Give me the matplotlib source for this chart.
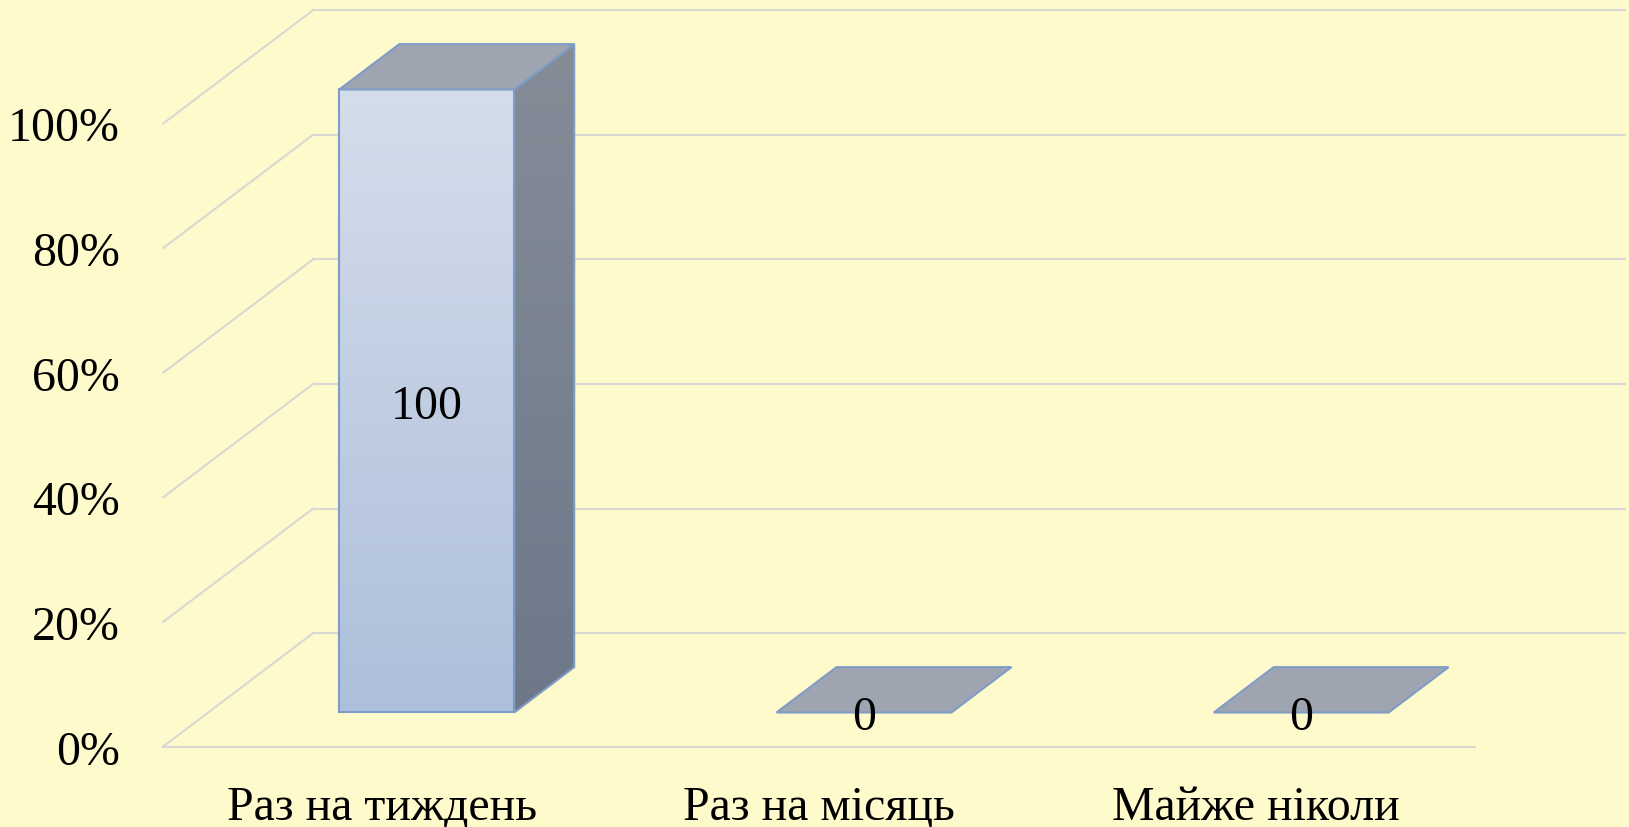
import matplotlib.pyplot as plt
import numpy as np
from matplotlib.colors import LinearSegmentedColormap
from matplotlib.patches import Polygon

# Chart data
categories = ["Раз на тиждень", "Раз на місяць", "Майже ніколи"]
values = [100, 0, 0]
value_labels = ["100", "0", "0"]
y_ticks = [0, 20, 40, 60, 80, 100]
y_tick_labels = ["0%", "20%", "40%", "60%", "80%", "100%"]

# Pseudo-3D layout (x in category slots, y in percent)
DEPTH_X = 0.343    # depth shift in category units
DEPTH_Y = 18.2     # depth shift in percent units
BAR_LO, BAR_HI = 0.3, 0.7   # bar position inside slot and inside depth

BG = "#FFFACB"
GRID = "#D8D8D4"
EDGE = "#7F9CC8"
FS = 34.5

plt.rcParams["font.family"] = ["Liberation Serif", "DejaVu Serif"]

fig = plt.figure(figsize=(16.29, 8.28), dpi=100, facecolor=BG)
ax = fig.add_axes([0, 0, 1, 1])
ax.set_facecolor(BG)
ax.axis("off")

n = len(categories)

# Walls: back gridlines and left wall diagonals
for t in y_ticks:
    ax.plot([DEPTH_X, n + DEPTH_X], [t + DEPTH_Y, t + DEPTH_Y],
            color=GRID, lw=1.5, zorder=1)
    ax.plot([0, DEPTH_X], [t, t + DEPTH_Y], color=GRID, lw=1.5, zorder=1)
# Floor front edge
ax.plot([0, n], [0, 0], color=GRID, lw=1.5, zorder=1)


def gradient_fill(poly, x0, x1, y0, y1, c_top, c_bottom, z):
    cmap = LinearSegmentedColormap.from_list("g", [c_bottom, c_top])
    grad = np.linspace(0, 1, 256).reshape(-1, 1)
    im = ax.imshow(grad, extent=[x0, x1, y0, y1], origin="lower",
                   aspect="auto", cmap=cmap, zorder=z)
    im.set_clip_path(poly)


for i, v in enumerate(values):
    fx0 = i + BAR_LO + BAR_LO * DEPTH_X
    fx1 = i + BAR_HI + BAR_LO * DEPTH_X
    fy0 = BAR_LO * DEPTH_Y
    fy1 = v + fy0
    bd_x = (BAR_HI - BAR_LO) * DEPTH_X
    bd_y = (BAR_HI - BAR_LO) * DEPTH_Y

    if v > 0:
        # Side face
        side = Polygon([(fx1, fy0), (fx1 + bd_x, fy0 + bd_y),
                        (fx1 + bd_x, fy1 + bd_y), (fx1, fy1)],
                       closed=True, facecolor="none", edgecolor=EDGE,
                       lw=1.5, zorder=4)
        ax.add_patch(side)
        gradient_fill(side, fx1, fx1 + bd_x, fy0, fy1 + bd_y,
                      "#858C98", "#6D7889", 3)

        # Front face
        front = Polygon([(fx0, fy0), (fx1, fy0), (fx1, fy1), (fx0, fy1)],
                        closed=True, facecolor="none", edgecolor=EDGE,
                        lw=1.5, zorder=6)
        ax.add_patch(front)
        gradient_fill(front, fx0, fx1, fy0, fy1, "#D4DDEB", "#ADBFDA", 5)

    # Top face
    top = Polygon([(fx0, fy1), (fx1, fy1), (fx1 + bd_x, fy1 + bd_y),
                   (fx0 + bd_x, fy1 + bd_y)],
                  closed=True, facecolor="#9EA5B0", edgecolor=EDGE,
                  lw=1.5, zorder=7)
    ax.add_patch(top)

    ax.text((fx0 + fx1) / 2, fy0 + v / 2, value_labels[i], fontsize=FS,
            ha="center", va="center_baseline", color="black", zorder=10)

    ax.text(i + 0.5, -11.6, categories[i], fontsize=FS,
            ha="center", va="baseline", color="black")

for t, lab in zip(y_ticks, y_tick_labels):
    ax.text(-0.099, t, lab, fontsize=FS, ha="right", va="center_baseline",
            color="black")

ax.set_xlim(-0.3733, 3.3527)
ax.set_ylim(-12.92, 119.98)

fig.savefig("out.png", dpi=100, facecolor=BG)
